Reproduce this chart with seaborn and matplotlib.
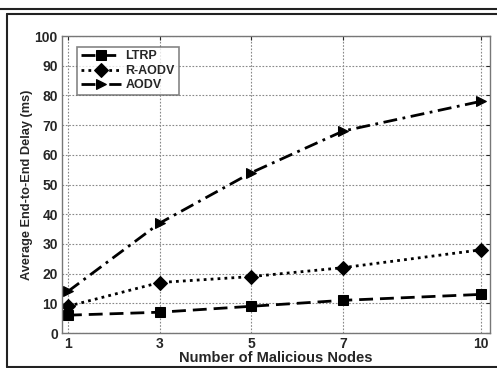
import seaborn as sns
import pandas as pd
import matplotlib
matplotlib.use("Agg")
import matplotlib.pyplot as plt
from matplotlib.lines import Line2D

nodes = [1, 3, 5, 7, 10]
ltrp = [6, 7, 9, 11, 13]
raodv = [9, 17, 19, 22, 28]
aodv = [14, 37, 54, 68, 78]
y_ticks = list(range(0, 101, 10))


def main():
    sns.set_style("white")
    plt.rcParams['font.family'] = ['Liberation Sans', 'DejaVu Sans']
    plt.rcParams['font.weight'] = 'bold'

    fig = plt.figure(figsize=(4.97, 3.68), dpi=100)
    ax = fig.add_axes([0.1247, 0.0951, 0.861, 0.807])

    # frame lines of the scanned page
    ft = fig.transFigure
    fig.lines.append(Line2D([0, 1], [0.976, 0.976], transform=ft,
                            color='#222222', linewidth=1.5))
    fig.lines.append(Line2D([0.015, 1], [0.961, 0.961], transform=ft,
                            color='#222222', linewidth=1.5))
    fig.lines.append(Line2D([0.015, 0.015], [0.961, 0.003], transform=ft,
                            color='#222222', linewidth=1.5))
    fig.lines.append(Line2D([0.015, 1], [0.003, 0.003], transform=ft,
                            color='#222222', linewidth=1.5))

    df = pd.DataFrame({'nodes': nodes, 'LTRP': ltrp,
                       'R-AODV': raodv, 'AODV': aodv})
    styles = {'LTRP': ((0, (5, 2.5)), 's'),
              'R-AODV': ((0, (1, 1.5)), 'D'),
              'AODV': ((0, (5, 2, 1, 2)), '>')}
    for name, (ls, mk) in styles.items():
        sns.lineplot(data=df, x='nodes', y=name, ax=ax, color='black',
                     linewidth=2, linestyle=ls, marker=mk, markersize=7,
                     markeredgecolor='black', label=name, legend=False)

    ax.set_xlim(0.87, 10.2)
    ax.set_ylim(0, 100)
    ax.set_xticks(nodes)
    ax.set_yticks(y_ticks)
    ax.tick_params(direction='in', length=3, labelsize=10, top=True,
                   right=True, width=0.8, pad=3)
    ax.grid(True, color='#888888', linestyle=(0, (1.5, 1.5)), linewidth=0.8)
    for s in ax.spines.values():
        s.set_color('#777777')
        s.set_linewidth(1)

    ax.set_xlabel('Number of Malicious Nodes', fontsize=10.5,
                  fontweight='bold', labelpad=0)
    ax.set_ylabel('Average End-to-End Delay (ms)', fontsize=9.2,
                  fontweight='bold', labelpad=1)

    handles = ax.get_lines()[:3]
    leg = ax.legend(handles=handles, labels=list(styles.keys()),
                    loc='upper left', fontsize=9, frameon=True,
                    fancybox=False, edgecolor='#666666', handlelength=3.2,
                    borderpad=0.3, labelspacing=0.2, handletextpad=0.4,
                    bbox_to_anchor=(0.02, 0.985))
    leg.get_frame().set_linewidth(1.2)
    for t in leg.get_texts():
        t.set_fontweight('bold')

    fig.savefig('out.png', dpi=100)


if __name__ == "__main__":
    main()
